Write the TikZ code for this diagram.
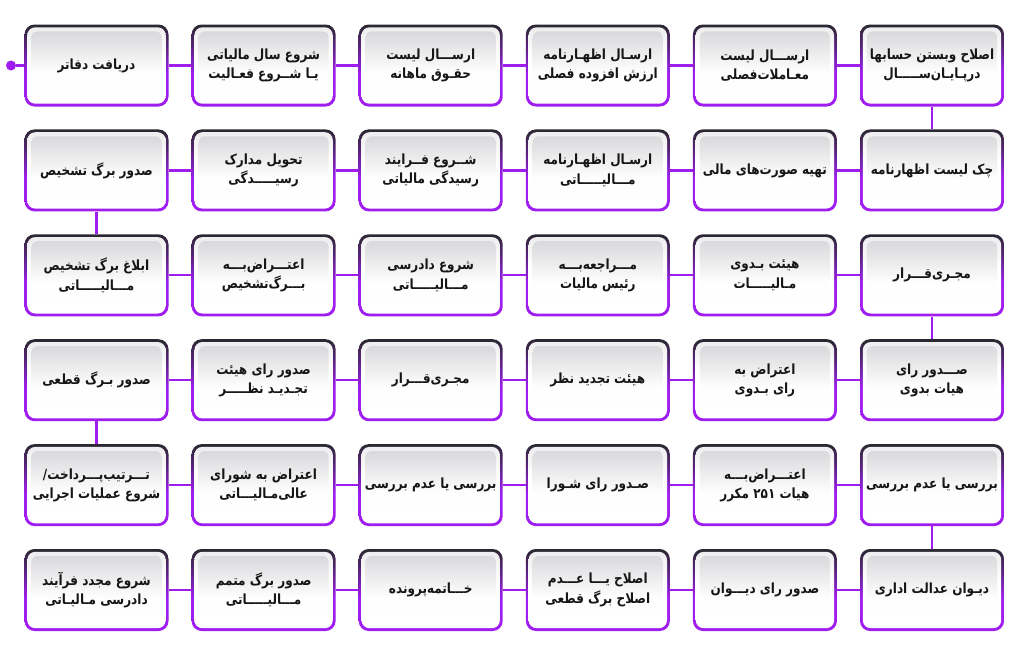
\documentclass[tikz,border=0pt]{standalone}
\usepackage{fontspec}
\newfontfamily\fa[Script=Arabic,FakeStretch=0.86]{DejaVu Sans}
\TeXXeTstate=1
\definecolor{vio}{HTML}{A01DF0}
\definecolor{darkb}{HTML}{2A2830}
\definecolor{panel}{HTML}{D9D9DC}
\definecolor{ring}{HTML}{ECECEE}
\definecolor{ink}{HTML}{161616}
\pgfdeclareverticalshading{boxborder}{100bp}{color(0bp)=(vio); color(25bp)=(vio); color(45bp)=(vio); color(62bp)=(darkb!60!vio); color(75bp)=(darkb); color(100bp)=(darkb)}
\pgfdeclareverticalshading{panelsh}{100bp}{color(0bp)=(white); color(25bp)=(white); color(45bp)=(white!96!panel); color(75bp)=(panel); color(100bp)=(panel)}
\pgfdeclareverticalshading{ringsh}{100bp}{color(0bp)=(white); color(25bp)=(white); color(55bp)=(white); color(75bp)=(ring); color(100bp)=(ring)}
\tikzset{
  stepbox/.style={rectangle, rounded corners=7.5pt, minimum width=108pt, minimum height=61.5pt,
    inner sep=0pt, shading=boxborder, align=center, text=ink,
    font=\fa\bfseries\fontsize{10.5}{14.5}\selectfont,
    path picture={
      \shade[shading=ringsh, rounded corners=6pt]
        ([xshift=2.1pt,yshift=-2.1pt]path picture bounding box.north west) rectangle
        ([xshift=-2.1pt,yshift=2.1pt]path picture bounding box.south east);
      \shade[shading=panelsh, rounded corners=4.5pt]
        ([xshift=5.2pt,yshift=-5.2pt]path picture bounding box.north west) rectangle
        ([xshift=-5.2pt,yshift=5.2pt]path picture bounding box.south east);
    }},
  link/.style={draw=vio, line width=1.7pt},
  startdot/.style={circle, fill=vio, inner sep=0pt, minimum size=7.5pt}
}
\newcommand\RL[1]{\beginR #1\endR}
\begin{document}
\begin{tikzpicture}[x=0.75pt,y=-0.75pt]
\fill[white] (0,0) rectangle (1020,650);
\useasboundingbox (0,0) rectangle (1020,650);
% row 1
\node[stepbox] (n11) at (96.5,65.5) {\RL{دریافت دفاتر}};
\node[stepbox] (n12) at (263.6,65.5) {\RL{شروع سال مالیاتی}\\\RL{یـا شــروع فعـالیت}};
\node[stepbox] (n13) at (430.7,65.5) {\RL{ارســـال لیست}\\\RL{حقـوق ماهانه}};
\node[stepbox] (n14) at (597.8,65.5) {\RL{ارسـال اظهـارنامه}\\\RL{ارزش افزوده فصلی}};
\node[stepbox] (n15) at (764.9,65.5) {\RL{ارســـال لیست}\\\RL{معـاملات‌فصلی}};
\node[stepbox] (n16) at (932,65.5) {\RL{اصلاح وبستن حسابها}\\\RL{درپـایـان‌ســـــال}};
% row 2
\node[stepbox] (n21) at (96.5,170.4) {\RL{صدور برگ تشخیص}};
\node[stepbox] (n22) at (263.6,170.4) {\RL{تحویل مدارک}\\\RL{رسیـــــدگی}};
\node[stepbox] (n23) at (430.7,170.4) {\RL{شــروع فــرایند}\\\RL{رسیدگی مالیاتی}};
\node[stepbox] (n24) at (597.8,170.4) {\RL{ارسـال اظهـارنامه}\\\RL{مـــالیـــــاتی}};
\node[stepbox] (n25) at (764.9,170.4) {\RL{تهیه صورت‌های مالی}};
\node[stepbox] (n26) at (932,170.4) {\RL{چک لیست اظهارنامه}};
% row 3
\node[stepbox] (n31) at (96.5,275.3) {\RL{ابلاغ برگ تشخیص}\\\RL{مـــالیـــــاتی}};
\node[stepbox] (n32) at (263.6,275.3) {\RL{اعتـــراض‌بـــه}\\\RL{بـــرگ‌تشخیص}};
\node[stepbox] (n33) at (430.7,275.3) {\RL{شروع دادرسی}\\\RL{مـــالیـــــاتی}};
\node[stepbox] (n34) at (597.8,275.3) {\RL{مـــراجعه‌بـــه}\\\RL{رئیس مالیات}};
\node[stepbox] (n35) at (764.9,275.3) {\RL{هیئت بـدوی}\\\RL{مـالیـــــات}};
\node[stepbox] (n36) at (932,275.3) {\RL{مجـری‌قـــرار}};
% row 4
\node[stepbox] (n41) at (96.5,380.2) {\RL{صدور بـرگ قطعی}};
\node[stepbox] (n42) at (263.6,380.2) {\RL{صدور رای هیئت}\\\RL{تجـدیـد نظـــــر}};
\node[stepbox] (n43) at (430.7,380.2) {\RL{مجـری‌قـــرار}};
\node[stepbox] (n44) at (597.8,380.2) {\RL{هیئت تجدید نظر}};
\node[stepbox] (n45) at (764.9,380.2) {\RL{اعتراض به}\\\RL{رای بـدوی}};
\node[stepbox] (n46) at (932,380.2) {\RL{صـــدور رای}\\\RL{هیات بدوی}};
% row 5
\node[stepbox] (n51) at (96.5,485.1) {\RL{تـــرتیب‌پـــرداخت/}\\\RL{شروع عملیات اجرایی}};
\node[stepbox] (n52) at (263.6,485.1) {\RL{اعتراض به شورای}\\\RL{عالی‌مـالیـــاتی}};
\node[stepbox] (n53) at (430.7,485.1) {\RL{بررسی یا عدم بررسی}};
\node[stepbox] (n54) at (597.8,485.1) {\RL{صـدور رای شـورا}};
\node[stepbox] (n55) at (764.9,485.1) {\RL{اعتـــراض‌بـــه}\\\RL{هیات \beginL ۲۵۱\endL{} مکرر}};
\node[stepbox] (n56) at (932,485.1) {\RL{بررسی یا عدم بررسی}};
% row 6
\node[stepbox] (n61) at (96.5,590) {\RL{شروع مجدد فرآیند}\\\RL{دادرسی مـالیـاتی}};
\node[stepbox] (n62) at (263.6,590) {\RL{صدور برگ متمم}\\\RL{مـــالیـــــاتی}};
\node[stepbox] (n63) at (430.7,590) {\RL{خـــاتمه‌پرونده}};
\node[stepbox] (n64) at (597.8,590) {\RL{اصلاح یـــا عـــدم}\\\RL{اصلاح برگ قطعی}};
\node[stepbox] (n65) at (764.9,590) {\RL{صدور رای دیـــوان}};
\node[stepbox] (n66) at (932,590) {\RL{دیـوان عدالت اداری}};
% start dot
\node[startdot] (start) at (11,65.5) {};
% connectors
\draw[link] (start) -- (n11);
\draw[link] (n11) -- (n12); \draw[link] (n12) -- (n13); \draw[link] (n13) -- (n14);
\draw[link] (n14) -- (n15); \draw[link] (n15) -- (n16);
\draw[link] (n16) -- (n26);
\draw[link] (n26) -- (n25); \draw[link] (n25) -- (n24); \draw[link] (n24) -- (n23);
\draw[link] (n23) -- (n22); \draw[link] (n22) -- (n21);
\draw[link] (n21) -- (n31);
\draw[link] (n31) -- (n32); \draw[link] (n32) -- (n33); \draw[link] (n33) -- (n34);
\draw[link] (n34) -- (n35); \draw[link] (n35) -- (n36);
\draw[link] (n36) -- (n46);
\draw[link] (n46) -- (n45); \draw[link] (n45) -- (n44); \draw[link] (n44) -- (n43);
\draw[link] (n43) -- (n42); \draw[link] (n42) -- (n41);
\draw[link] (n41) -- (n51);
\draw[link] (n51) -- (n52); \draw[link] (n52) -- (n53); \draw[link] (n53) -- (n54);
\draw[link] (n54) -- (n55); \draw[link] (n55) -- (n56);
\draw[link] (n56) -- (n66);
\draw[link] (n66) -- (n65); \draw[link] (n65) -- (n64); \draw[link] (n64) -- (n63);
\draw[link] (n63) -- (n62); \draw[link] (n62) -- (n61);
\end{tikzpicture}
\end{document}
